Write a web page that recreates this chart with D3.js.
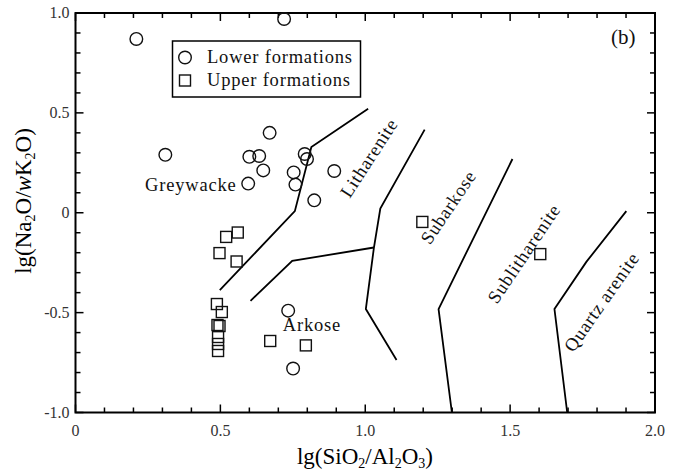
<!DOCTYPE html>
<html>
<head>
<meta charset="utf-8">
<script src="https://cdn.jsdelivr.net/npm/d3@7"></script>
<style>
  body { margin: 0; background: #fff; }
  svg { display: block; font-family: "Liberation Serif", "DejaVu Serif", serif; }
</style>
</head>
<body>
<div id="chart"></div>
<script>
// lower formations (circles)
const lowerX = [0.21, 0.72, 0.31, 0.67, 0.60, 0.634, 0.648, 0.596, 0.753, 0.759, 0.791, 0.799, 0.824, 0.893, 0.734, 0.751];
const lowerY = [0.87, 0.97, 0.29, 0.40, 0.28, 0.284, 0.212, 0.146, 0.202, 0.141, 0.294, 0.269, 0.062, 0.209, -0.49, -0.78];

// upper formations (squares)
const upperX = [0.520, 0.560, 0.497, 0.556, 1.197, 1.604, 0.488, 0.505, 0.490, 0.497, 0.492, 0.492, 0.492, 0.672, 0.795];
const upperY = [-0.121, -0.099, -0.202, -0.244, -0.046, -0.207, -0.457, -0.497, -0.562, -0.567, -0.622, -0.657, -0.692, -0.642, -0.664];

// field boundaries
const boundaries = [
  [[0.498, -0.387], [0.757, 0.008], [0.814, 0.329], [1.01, 0.521]],
  [[0.604, -0.441], [0.748, -0.241], [1.03, -0.174]],
  [[1.205, 0.416], [1.052, 0.021], [1.030, -0.174], [1.002, -0.482], [1.108, -0.737]],
  [[1.508, 0.269], [1.253, -0.482], [1.299, -1.0]],
  [[1.901, 0.008], [1.763, -0.246], [1.653, -0.482], [1.697, -1.0]]
];

const fieldNames = ["Greywacke", "Arkose", "Litharenite", "Subarkose", "Sublitharenite", "Quartz arenite"];
const xTicks = [0, 0.5, 1.0, 1.5, 2.0];
const yTicks = [-1.0, -0.5, 0, 0.5, 1.0];
const legendNames = ["Lower formations", "Upper formations"];

const width = 675, height = 475;
const svg = d3.select("#chart").append("svg")
    .attr("width", width)
    .attr("height", height);

const x = d3.scaleLinear().domain([0, 2]).range([75.5, 655]);
const y = d3.scaleLinear().domain([-1, 1]).range([412.5, 13]);

const fmt = d => d === 0 ? "0" : d3.format(".1f")(d).replace("\u2212", "-");
const minor = d3.range(0, 2.001, 0.1);
const minorY = d3.range(-1, 1.001, 0.1);

// ticks (inward, all four sides)
const ticks = svg.append("g").attr("stroke", "#000").attr("stroke-width", 1.5);
const isMajor = v => Math.abs(v * 2 - Math.round(v * 2)) < 1e-6;
minor.forEach(v => {
  const len = isMajor(v) ? 8 : 5;
  ticks.append("line").attr("x1", x(v)).attr("x2", x(v)).attr("y1", y(-1)).attr("y2", y(-1) - len);
  ticks.append("line").attr("x1", x(v)).attr("x2", x(v)).attr("y1", y(1)).attr("y2", y(1) + len);
});
minorY.forEach(v => {
  const len = isMajor(v) ? 8 : 5;
  ticks.append("line").attr("y1", y(v)).attr("y2", y(v)).attr("x1", x(0)).attr("x2", x(0) + len);
  ticks.append("line").attr("y1", y(v)).attr("y2", y(v)).attr("x1", x(2)).attr("x2", x(2) - len);
});

svg.append("rect")
    .attr("x", x(0)).attr("y", y(1))
    .attr("width", x(2) - x(0)).attr("height", y(-1) - y(1))
    .attr("fill", "none").attr("stroke", "#000").attr("stroke-width", 2);

// tick labels
svg.append("g").selectAll("text")
  .data(xTicks)
  .join("text")
    .attr("x", d => x(d))
    .attr("y", y(-1) + 23)
    .attr("text-anchor", "middle")
    .attr("font-size", 16)
    .attr("fill", "#333")
    .text(fmt);

svg.append("g").selectAll("text")
  .data(yTicks)
  .join("text")
    .attr("x", x(0) - 6)
    .attr("y", d => y(d) + 5)
    .attr("text-anchor", "end")
    .attr("font-size", 16)
    .attr("fill", "#333")
    .text(fmt);

// axis titles
const xt = svg.append("text")
    .attr("x", 365).attr("y", 464)
    .attr("text-anchor", "middle")
    .attr("font-size", 23)
    .attr("fill", "#000");
xt.append("tspan").text("lg(SiO");
xt.append("tspan").attr("font-size", 14).attr("dy", 4).text("2");
xt.append("tspan").attr("dy", -4).text("/Al");
xt.append("tspan").attr("font-size", 14).attr("dy", 4).text("2");
xt.append("tspan").attr("dy", -4).text("O");
xt.append("tspan").attr("font-size", 14).attr("dy", 4).text("3");
xt.append("tspan").attr("dy", -4).text(")");

const yt = svg.append("text")
    .attr("transform", "translate(31,201) rotate(-90)")
    .attr("text-anchor", "middle")
    .attr("font-size", 23)
    .attr("fill", "#000");
yt.append("tspan").text("lg(Na");
yt.append("tspan").attr("font-size", 14).attr("dy", 4).text("2");
yt.append("tspan").attr("dy", -4).text("O/");
yt.append("tspan").attr("font-style", "italic").text("w");
yt.append("tspan").text("K");
yt.append("tspan").attr("font-size", 14).attr("dy", 4).text("2");
yt.append("tspan").attr("dy", -4).text("O)");

// boundaries
const line = d3.line().x(d => x(d[0])).y(d => y(d[1]));
svg.append("g").selectAll("path")
  .data(boundaries)
  .join("path")
    .attr("d", line)
    .attr("fill", "none")
    .attr("stroke", "#000")
    .attr("stroke-width", 1.8);

// field labels
const labelPos = [
  {x: 0.24, y: 0.1075, a: 0, anchor: "start"},
  {x: 0.7155, y: -0.5925, a: 0, anchor: "start"},
  {x: 1.012, y: 0.275, a: -57, anchor: "middle"},
  {x: 1.286, y: 0.029, a: -56, anchor: "middle"},
  {x: 1.547, y: -0.204, a: -56, anchor: "middle"},
  {x: 1.815, y: -0.446, a: -55, anchor: "middle"}
];
svg.append("g").selectAll("text")
  .data(fieldNames)
  .join("text")
    .attr("transform", (d, i) => `translate(${x(labelPos[i].x)},${y(labelPos[i].y)}) rotate(${labelPos[i].a})`)
    .attr("text-anchor", (d, i) => labelPos[i].anchor)
    .attr("dy", (d, i) => labelPos[i].a ? "0.35em" : 0)
    .attr("font-size", 18.5)
    .attr("letter-spacing", 0.8)
    .attr("fill", "#111")
    .text(d => d);

// points
const lower = lowerX.map((v, i) => [v, lowerY[i]]);
const upper = upperX.map((v, i) => [v, upperY[i]]);

svg.append("g").selectAll("circle")
  .data(lower)
  .join("circle")
    .attr("cx", d => x(d[0]))
    .attr("cy", d => y(d[1]))
    .attr("r", 6.3)
    .attr("fill", "none")
    .attr("stroke", "#111")
    .attr("stroke-width", 1.4);

const sq = 11;
svg.append("g").selectAll("rect")
  .data(upper)
  .join("rect")
    .attr("x", d => x(d[0]) - sq / 2)
    .attr("y", d => y(d[1]) - sq / 2)
    .attr("width", sq).attr("height", sq)
    .attr("fill", "none")
    .attr("stroke", "#111")
    .attr("stroke-width", 1.4);

// legend
const lg = svg.append("g");
lg.append("rect")
    .attr("x", 172.5).attr("y", 41)
    .attr("width", 188).attr("height", 56)
    .attr("fill", "#fff").attr("stroke", "#000").attr("stroke-width", 1.5);
lg.append("circle").attr("cx", 185).attr("cy", 57.5).attr("r", 6.3)
    .attr("fill", "none").attr("stroke", "#111").attr("stroke-width", 1.4);
lg.append("rect").attr("x", 185 - sq / 2).attr("y", 80.5 - sq / 2).attr("width", sq).attr("height", sq)
    .attr("fill", "none").attr("stroke", "#111").attr("stroke-width", 1.4);
lg.selectAll("text.leg")
  .data(legendNames)
  .join("text")
    .attr("class", "leg")
    .attr("x", 207)
    .attr("y", (d, i) => 63 + i * 23)
    .attr("font-size", 18.5)
    .attr("letter-spacing", 0.8)
    .attr("fill", "#111")
    .text(d => d);

svg.append("text")
    .attr("x", 611).attr("y", 44)
    .attr("font-size", 21)
    .attr("fill", "#111")
    .text("(b)");
</script>
</body>
</html>
